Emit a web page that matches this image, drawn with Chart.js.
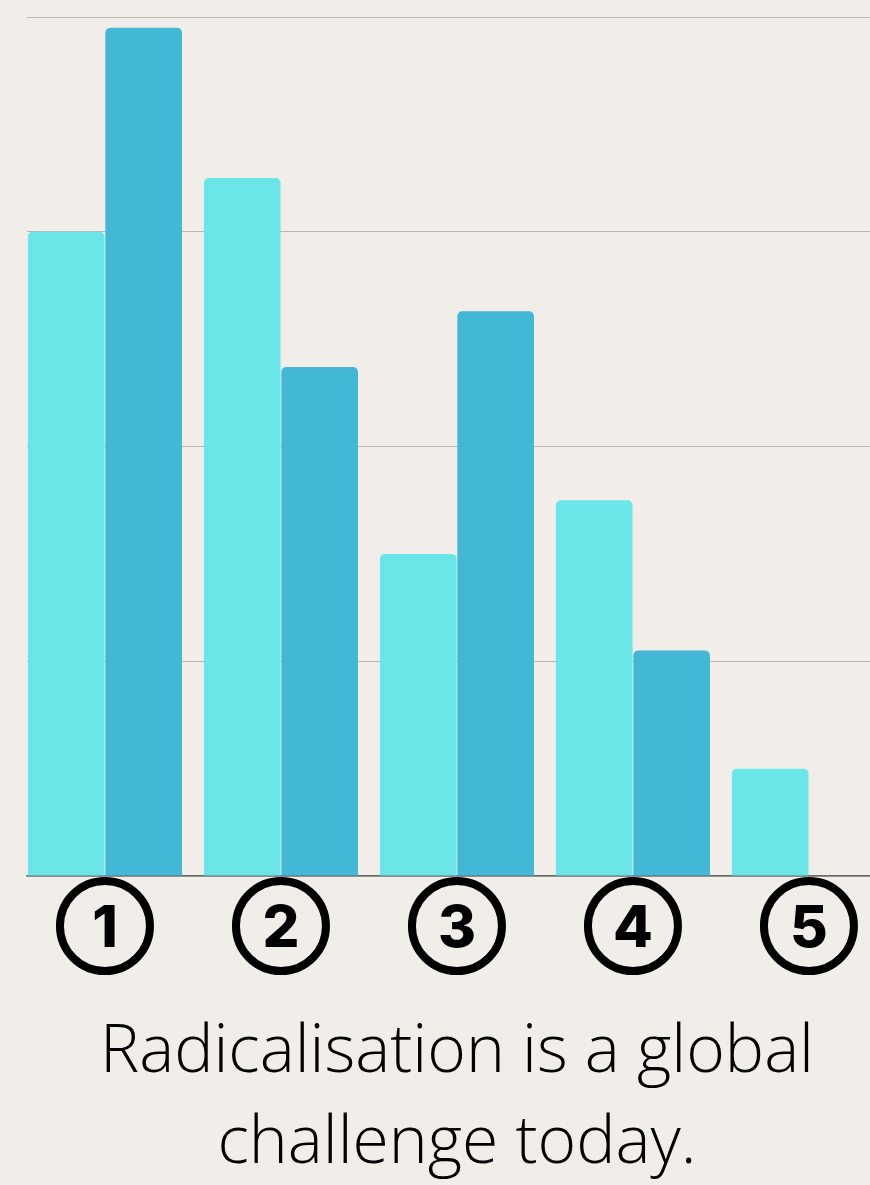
<!DOCTYPE html>
<html>
<head>
<meta charset="utf-8">
<script src="https://cdn.jsdelivr.net/npm/chart.js@4.4.1/dist/chart.umd.min.js"></script>
<style>
  html,body{margin:0;padding:0;background:#f1eeea;overflow:hidden;}
  #wrap{position:relative;width:870px;height:1185px;}
  #chart{position:absolute;left:0;top:0;}
  #caption{position:absolute;left:0;top:1001px;width:870px;box-sizing:border-box;padding-left:44px;
    text-align:center;font-family:'Open Sans',sans-serif;font-weight:300;font-size:66px;line-height:91px;color:#000;}
</style>
</head>
<body>
<div id="wrap">
  <canvas id="chart" width="870" height="990"></canvas>
  <div id="caption">Radicalisation is a global<br>challenge today.</div>
</div>
<script>
// groups along the bottom, two series per group
const categories = ['1', '2', '3', '4', '5'];
const seriesA = [30, 32.5, 15, 17.5, 5];
const seriesB = [39.5, 23.7, 26.3, 10.5, null];
const yTicks = [0, 10, 20, 30, 40];

const toPoints = vals => vals.map((v, i) => ({x: i + 1, y: v}));

// circled numbers under each group
const circledLabels = {
  id: 'circledLabels',
  afterDraw(chart){
    const ctx = chart.ctx;
    const xs = chart.scales.x;
    const cy = chart.chartArea.bottom + 50;
    ctx.save();
    categories.forEach((lab, i) => {
      const cx = xs.getPixelForValue(i + 1);
      ctx.beginPath();
      ctx.arc(cx, cy, 45, 0, Math.PI * 2);
      ctx.lineWidth = 8;
      ctx.strokeStyle = '#000';
      ctx.stroke();
      ctx.fillStyle = '#000';
      ctx.font = '800 58px Inter, "DejaVu Sans", sans-serif';
      ctx.textAlign = 'center';
      ctx.textBaseline = 'alphabetic';
      ctx.fillText(lab, cx, cy + 21);
    });
    ctx.restore();
  }
};

new Chart(document.getElementById('chart'), {
  type: 'bar',
  data: {
    datasets: [
      {label: 'A', data: toPoints(seriesA), backgroundColor: '#6ae5e8', borderRadius: 5, borderSkipped: 'start'},
      {label: 'B', data: toPoints(seriesB), backgroundColor: '#42b7d6', borderRadius: 5, borderSkipped: 'start'}
    ]
  },
  options: {
    responsive: false,
    animation: false,
    events: [],
    categoryPercentage: 0.88,
    barPercentage: 0.99,
    layout: {padding: {top: 17, left: 27, right: 0, bottom: 114}},
    plugins: {legend: {display: false}, tooltip: {enabled: false}},
    scales: {
      x: {
        type: 'linear',
        bounds: 'data',
        offset: false,
        min: 0.557,
        max: 5.347,
        // one tick per group so bar widths follow the group spacing
        afterBuildTicks: scale => { scale.ticks = categories.map((c, i) => ({value: i + 1})); },
        ticks: {display: false},
        grid: {display: false, drawTicks: false, offset: false},
        border: {display: true, color: '#6b6966', width: 1.5}
      },
      y: {
        min: yTicks[0],
        max: yTicks[yTicks.length - 1],
        ticks: {display: false, stepSize: yTicks[1] - yTicks[0]},
        grid: {color: '#b9b6b2', lineWidth: 1, drawTicks: false},
        border: {display: false}
      }
    }
  },
  plugins: [circledLabels]
});
</script>
</body>
</html>
